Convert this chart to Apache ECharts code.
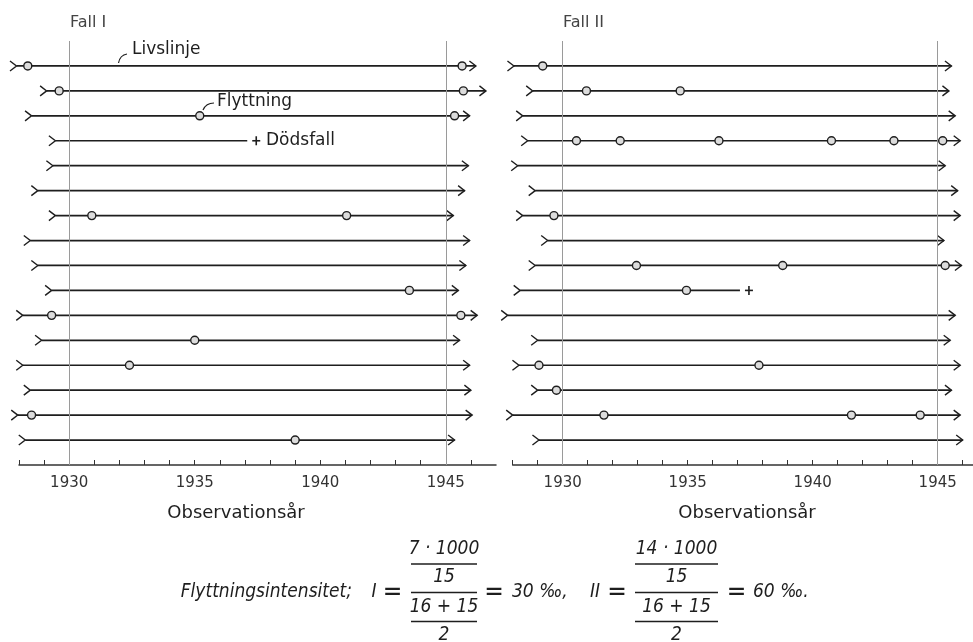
<!DOCTYPE html>
<html><head><meta charset="utf-8">
<script src="https://cdn.jsdelivr.net/npm/echarts@6/dist/echarts.min.js"></script>
<style>html,body{margin:0;padding:0;background:#fff}#c{width:973px;height:642px}</style>
</head><body><div id="c"></div>
<script>
// ---- data ----
const rows = [1,2,3,4,5,6,7,8,9,10,11,12,13,14,15,16];
const tickYears1 = [1928,1929,1930,1931,1932,1933,1934,1935,1936,1937,1938,1939,1940,1941,1942,1943,1944,1945,1946];
const tickYears2 = [1928,1929,1930,1931,1932,1933,1934,1935,1936,1937,1938,1939,1940,1941,1942,1943,1944,1945,1946];
const labelYears = [1930,1935,1940,1945];
const refYears = [1930,1945];
const panelTitles = ['Fall I','Fall II'];
const axisTitle = 'Observationsår';

// Fall I
const starts1 = [1927.9,1929.1,1928.5,1929.45,1929.35,1928.75,1929.45,1928.45,1928.75,1929.3,1928.15,1928.9,1928.15,1928.45,1927.95,1928.25];
const ends1   = [1946.2,1946.6,1945.95,1937.45,1945.9,1945.75,1945.3,1945.95,1945.8,1945.5,1946.25,1945.55,1945.95,1946.0,1946.05,1945.35];
const deathRows1 = [4];
const moves1 = [[1928.35,1945.65],[1929.6,1945.7],[1935.2,1945.35],[],[],[],[1930.9,1941.05],[],[],[1943.55],[1929.3,1945.6],[1935.0],[1932.4],[],[1928.5],[1939.0]];

// Fall II
const starts2 = [1928.05,1928.8,1928.4,1928.6,1928.2,1928.9,1928.4,1929.4,1928.9,1928.3,1927.8,1929.0,1928.25,1929.0,1928.0,1929.05];
const ends2   = [1945.55,1945.45,1945.7,1945.9,1945.3,1945.8,1945.9,1945.25,1945.95,1937.45,1945.7,1945.5,1945.9,1945.55,1945.9,1946.0];
const deathRows2 = [10];
const moves2 = [[1929.2],[1930.95,1934.7],[],[1930.55,1932.3,1936.25,1940.75,1943.25,1945.2],[],[],[1929.65],[],[1932.95,1938.8,1945.3],[1934.95],[],[],[1929.05,1937.85],[1929.75],[1931.65,1941.55,1944.3],[]];

const annotations = ['Livslinje','Flyttning','Dödsfall'];
const formulaLead = 'Flyttningsintensitet;';
const frac1 = ['7 · 1000','15','16 + 15','2'];
const frac2 = ['14 · 1000','15','16 + 15','2'];
const results = ['30 ‰,','60 ‰.'];
const caseSymbols = ['I','II'];

// ---- styles ----
const INK = '#1e1e1e';
const SANS = '"DejaVu Sans", sans-serif';
const NARROW = '"DejaVu Sans Condensed", sans-serif';

function makeData(starts, ends){ return starts.map((s,i)=>[rows[i], s, ends[i]]); }

function renderFactory(moves, deathRows){
  return function(params, api){
    const row = api.value(0), s = api.value(1), e = api.value(2);
    const p0 = api.coord([s,row]), p1 = api.coord([e,row]);
    const y = p0[1];
    const dead = deathRows.indexOf(row) >= 0;
    const ch = [];
    const lineEnd = dead ? p1[0]-9 : p1[0];
    ch.push({type:'line', shape:{x1:p0[0],y1:y,x2:lineEnd,y2:y}, style:{stroke:INK,lineWidth:1.7}});
    ch.push({type:'polyline', shape:{points:[[p0[0]-6.5,y-5],[p0[0],y],[p0[0]-6.5,y+5]]}, style:{stroke:INK,lineWidth:1.4,fill:'none'}});
    if(dead){
      ch.push({type:'line', shape:{x1:p1[0]-4,y1:y,x2:p1[0]+4,y2:y}, style:{stroke:INK,lineWidth:1.6}});
      ch.push({type:'line', shape:{x1:p1[0],y1:y-4.5,x2:p1[0],y2:y+4.5}, style:{stroke:INK,lineWidth:1.6}});
    } else {
      ch.push({type:'polyline', shape:{points:[[p1[0]-6.5,y-5],[p1[0],y],[p1[0]-6.5,y+5]]}, style:{stroke:INK,lineWidth:1.4,fill:'none'}});
    }
    moves[params.dataIndex].forEach(m=>{
      const c = api.coord([m,row]);
      ch.push({type:'circle', shape:{cx:c[0],cy:y,r:4}, style:{fill:'#dcdcdc',stroke:INK,lineWidth:1.4}});
    });
    return {type:'group', children:ch};
  };
}

function xAxisCfg(idx, min, max, ticks){
  return {
    type:'value', gridIndex:idx, min:min, max:max, position:'bottom',
    splitLine:{show:false},
    axisLine:{show:true, onZero:false, lineStyle:{color:'#333', width:1.5}},
    axisTick:{show:true, inside:true, length:5, lineStyle:{color:'#333', width:1}, customValues:ticks},
    axisLabel:{show:true, customValues:labelYears, fontSize:15, fontFamily:'DejaVu Sans', color:'#333', margin:11, lineHeight:15, formatter:v=>String(v)}
  };
}

function txt(text, x, y, font, align, fill){
  return {type:'text', x:x, y:y, silent:true, style:{text:text, font:font, fill:fill||INK, align:align||'center', textAlign:align||'center', verticalAlign:'middle', textVerticalAlign:'middle'}};
}
function hline(x1,x2,y){ return {type:'line', silent:true, shape:{x1:x1,y1:y,x2:x2,y2:y}, style:{stroke:INK,lineWidth:1.3}}; }

const FIT = 'italic 19px ' + NARROW;
const FFR = 'italic 19px ' + NARROW;
const FEQ = '26px ' + NARROW;

function fraction(parts, cx, x1, x2){
  return [
    txt(parts[0], cx, 549, FFR), hline(x1,x2,564),
    txt(parts[1], cx, 577, FFR), hline(x1,x2,592.5),
    txt(parts[2], cx, 607, FFR), hline(x1,x2,621.5),
    txt(parts[3], cx, 635, FFR)
  ];
}

const graphics = [
  txt(panelTitles[0], 70, 23, '16px '+SANS, 'left', '#444'),
  txt(panelTitles[1], 563, 23, '16px '+SANS, 'left', '#444'),
  txt(axisTitle, 236, 513, '18px '+SANS),
  txt(axisTitle, 747, 513, '18px '+SANS),
  txt(annotations[0], 132, 50, '17px '+SANS, 'left'),
  {type:'bezierCurve', silent:true, shape:{x1:127,y1:54,cpx1:120,cpy1:55,x2:118.5,y2:63}, style:{stroke:INK,lineWidth:1.2,fill:'none'}},
  txt(annotations[1], 217, 102, '17px '+SANS, 'left'),
  {type:'bezierCurve', silent:true, shape:{x1:214,y1:103,cpx1:206,cpy1:103,x2:203,y2:110}, style:{stroke:INK,lineWidth:1.2,fill:'none'}},
  txt(annotations[2], 266, 141, '17px '+SANS, 'left'),
  txt(formulaLead, 352, 592, FIT, 'right'),
  txt(caseSymbols[0], 374, 592, FIT),
  txt('=', 392.5, 593, FEQ),
  ...fraction(frac1, 444, 411, 477),
  txt('=', 494, 593, FEQ),
  txt(results[0], 512, 592, FIT, 'left'),
  txt(caseSymbols[1], 595, 592, FIT),
  txt('=', 617, 593, FEQ),
  ...fraction(frac2, 676.5, 635, 718),
  txt('=', 736.5, 593, FEQ),
  txt(results[1], 753, 592, FIT, 'left')
];

const chart = echarts.init(document.getElementById('c'), null, {renderer:'canvas'});
chart.setOption({
  animation:false,
  backgroundColor:'#fff',
  grid:[
    {left:19, top:41, width:477, height:424},
    {left:512.7, top:41, width:460, height:424}
  ],
  xAxis:[ xAxisCfg(0,1928,1947,tickYears1), xAxisCfg(1,1928,1946.4,tickYears2) ],
  yAxis:[
    {type:'value', gridIndex:0, min:0, max:17, inverse:true, show:false},
    {type:'value', gridIndex:1, min:0, max:17, inverse:true, show:false}
  ],
  series:[
    {type:'custom', xAxisIndex:0, yAxisIndex:0, clip:false, encode:{x:[1,2], y:0},
     data:makeData(starts1, ends1), renderItem:renderFactory(moves1, deathRows1),
     markLine:{silent:true, symbol:'none', label:{show:false}, lineStyle:{color:'#9a9a9a', width:1, type:'solid'},
       data:refYears.map(v=>({xAxis:v}))}},
    {type:'custom', xAxisIndex:1, yAxisIndex:1, clip:false, encode:{x:[1,2], y:0},
     data:makeData(starts2, ends2), renderItem:renderFactory(moves2, deathRows2),
     markLine:{silent:true, symbol:'none', label:{show:false}, lineStyle:{color:'#9a9a9a', width:1, type:'solid'},
       data:refYears.map(v=>({xAxis:v}))}}
  ],
  graphic:graphics
});
</script></body></html>
